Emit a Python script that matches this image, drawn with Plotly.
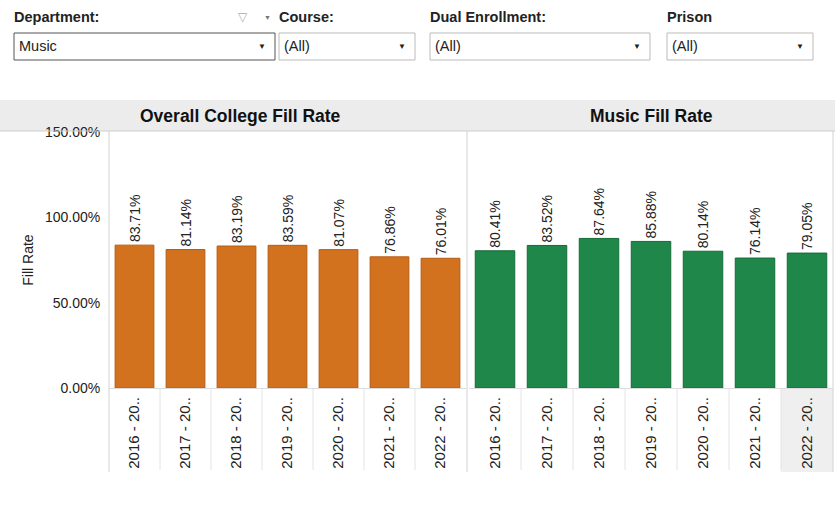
import plotly.graph_objects as go

# Academic years shown on the category axis (labels as truncated on screen)
years = ["2016 - 20..", "2017 - 20..", "2018 - 20..", "2019 - 20..",
         "2020 - 20..", "2021 - 20..", "2022 - 20.."]

# Fill rates (fractions)
college_fill = [0.8371, 0.8114, 0.8319, 0.8359, 0.8107, 0.7686, 0.7601]
music_fill = [0.8041, 0.8352, 0.8764, 0.8588, 0.8014, 0.7614, 0.7905]

# Filter bar contents
filter_titles = ["Department:", "Course:", "Dual Enrollment:", "Prison"]
filter_values = ["Music", "(All)", "(All)", "(All)"]

panel_titles = ["Overall College Fill Rate", "Music Fill Rate"]

W, H = 835, 514
FONT = "Liberation Sans, Arial, sans-serif"


def fx(px):
    return px / W


def fy(py):
    return 1 - py / H


ORANGE = "#D3721E"
GREEN = "#1F8749"

fig = go.Figure()

for xa, ya, vals, col, edge in (("x", "y", college_fill, ORANGE, "#B55C12"),
                                ("x2", "y2", music_fill, GREEN, "#166A38")):
    fig.add_trace(go.Bar(
        x=years, y=vals, xaxis=xa, yaxis=ya,
        marker=dict(color=col, line=dict(color=edge, width=1)),
        texttemplate="%{y:.2%}", textposition="outside", textangle=-90,
        constraintext="none", cliponaxis=False,
        textfont=dict(family=FONT, size=14, color="#222222"),
        hovertemplate="%{x}<br>%{y:.2%}<extra></extra>",
    ))

plot_top, plot_bot = 132, 388
ydom = [fy(plot_bot), fy(plot_top)]
yrange = [0, 1.5]

xcommon = dict(
    type="category", tickangle=-90, showgrid=False, zeroline=False,
    showline=True, linecolor="#dcdcdc", linewidth=1, automargin=False,
    tickfont=dict(family=FONT, size=15, color="#222222"),
    ticks="outside", ticklen=2, tickcolor="rgba(0,0,0,0)",
    fixedrange=True,
)

fig.update_layout(
    width=W, height=H,
    margin=dict(l=0, r=0, t=0, b=0, autoexpand=False),
    paper_bgcolor="white", plot_bgcolor="white",
    showlegend=False, bargap=0.24,
    font=dict(family=FONT, size=13, color="#222222"),
    xaxis=dict(domain=[fx(109), fx(466)], anchor="y", **xcommon),
    xaxis2=dict(domain=[fx(469), fx(833)], anchor="y2", **xcommon),
    yaxis=dict(
        domain=ydom, range=yrange, anchor="x", automargin=False,
        tickvals=[0, 0.5, 1.0, 1.5], tickformat=".2%",
        showgrid=False, zeroline=False, showline=False,
        ticks="outside", ticklen=5, tickcolor="rgba(0,0,0,0)",
        tickfont=dict(family=FONT, size=14, color="#222222"),
        title=dict(text="Fill Rate", standoff=8,
                   font=dict(family=FONT, size=14, color="#222222")),
        fixedrange=True,
    ),
    yaxis2=dict(
        domain=ydom, range=yrange, anchor="x2", automargin=False,
        showticklabels=False, showgrid=False, zeroline=False,
        showline=False, fixedrange=True,
    ),
)

shapes = []
# panel header band
shapes.append(dict(type="rect", xref="paper", yref="paper",
                   x0=fx(0), x1=fx(835), y0=fy(131), y1=fy(100),
                   fillcolor="#ececec", line=dict(width=0), layer="below"))
shapes.append(dict(type="line", xref="paper", yref="paper",
                   x0=fx(0), x1=fx(835), y0=fy(131), y1=fy(131),
                   line=dict(color="#cfcfcf", width=1)))
# highlighted last column label in the right panel
shapes.append(dict(type="rect", xref="x2", yref="paper",
                   x0=5.5, x1=6.5, y0=fy(472), y1=fy(389),
                   fillcolor="#efefef", line=dict(width=0), layer="below"))
# panel borders
for xp in (109, 467, 833):
    shapes.append(dict(type="line", xref="paper", yref="paper",
                       x0=fx(xp), x1=fx(xp), y0=fy(472), y1=fy(131),
                       line=dict(color="#d2d2d2", width=1)))
# separators between year labels
for ax in ("x", "x2"):
    for b in range(len(years) - 1):
        shapes.append(dict(type="line", xref=ax, yref="paper",
                           x0=b + 0.5, x1=b + 0.5, y0=fy(470), y1=fy(389),
                           line=dict(color="#e4e4e4", width=1)))


def label(text, x, y, size, color="#222222", xanchor="center"):
    return dict(text=text, xref="paper", yref="paper", x=fx(x), y=fy(y),
                xanchor=xanchor, yanchor="middle", showarrow=False,
                font=dict(family=FONT, size=size, color=color))


annotations = [
    label("<b>%s</b>" % panel_titles[0], 240, 116, 17.5, "#111111"),
    label("<b>%s</b>" % panel_titles[1], 651, 116, 17.5, "#111111"),
]

# filter controls
boxes = [(14, 275), (279, 415), (430, 650), (667, 813)]
for (x0, x1), title, val in zip(boxes, filter_titles, filter_values):
    annotations.append(label("<b>%s</b>" % title, x0 - 2, 17, 14.5, xanchor="left"))
    shapes.append(dict(type="rect", xref="paper", yref="paper",
                       x0=fx(x0), x1=fx(x1), y0=fy(60), y1=fy(33),
                       fillcolor="white",
                       line=dict(color="#555555" if val == "Music" else "#bbbbbb", width=1)))
    annotations.append(label(val, x0 + 3, 46, 14.5, xanchor="left"))
    annotations.append(label("▼", x1 - 13, 46, 8))
# filter clear icon and menu arrow next to Department
annotations.append(label("▽", 243, 17, 12, "#aaaaaa"))
annotations.append(label("▼", 267, 18, 7, "#777777"))

fig.update_layout(shapes=shapes, annotations=annotations)

fig.write_html("out.html", config={"displayModeBar": False})
